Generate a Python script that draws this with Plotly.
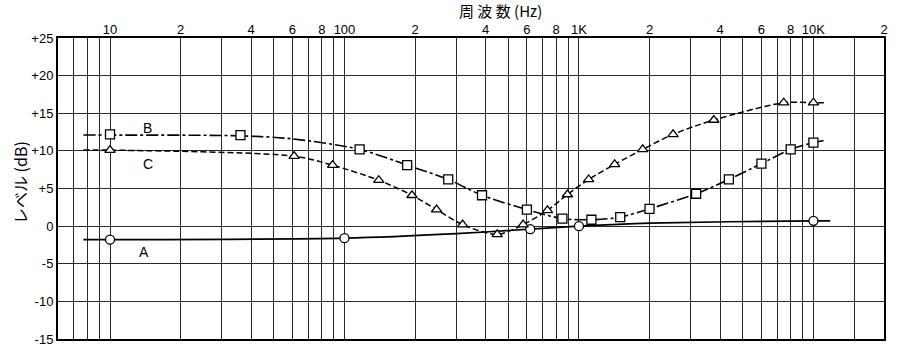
import numpy as np
import plotly.graph_objects as go

# ---- data ----
# Curve A (circles, solid)
a_freq = [10, 100, 620, 1000, 10000]
a_level = [-1.8, -1.6, -0.4, 0.0, 0.7]
a_line_freq = [7.7, 10, 100, 300, 620, 1000, 2000, 10000, 11800]
a_line_level = [-1.8, -1.8, -1.6, -1.0, -0.4, 0.0, 0.4, 0.7, 0.7]

# Curve B (squares, dash-dot)
b_freq = [10, 36, 116, 185, 277, 386, 600, 850, 1130, 1500, 2000, 3160, 4360, 6000, 8000, 10000]
b_level = [12.2, 12.1, 10.2, 8.1, 6.2, 4.1, 2.2, 1.0, 0.85, 1.2, 2.3, 4.3, 6.2, 8.3, 10.2, 11.1]
b_line_freq = [7.7, 10, 36, 60] + b_freq[2:] + [11100]
b_line_level = [12.1, 12.1, 12.0, 11.6] + b_level[2:] + [11.4]

# Curve C (triangles, dashed)
c_freq = [10, 61, 89, 140, 194, 247, 319, 448, 578, 734, 893, 1100, 1420, 1870, 2520, 3760, 7470, 10000]
c_level = [10.1, 9.3, 8.1, 6.1, 4.1, 2.2, 0.2, -1.1, 0.2, 2.1, 4.2, 6.2, 8.2, 10.2, 12.2, 14.1, 16.4, 16.4]
c_line_freq = [7.7] + c_freq + [11200]
c_line_level = [10.1] + c_level + [16.4]

# Axis ticks
x_label_vals = [10, 20, 40, 60, 80, 100, 200, 400, 600, 800, 1000, 2000, 4000, 6000, 8000, 10000, 20000]
x_label_text = ["10", "2", "4", "6", "8", "100", "2", "4", "6", "8", "1K", "2", "4", "6", "8", "10K", "2"]
x_minor_vals = [6, 7, 8, 9, 30, 50, 70, 90, 300, 500, 700, 900, 3000, 5000, 7000, 9000, 15000]
y_vals = [-15, -10, -5, 0, 5, 10, 15, 20, 25]
y_text = ["-15", "-10", "-5", "0", "+5", "+10", "+15", "+20", "+25"]

FONT = "Liberation Sans"
fig = go.Figure()

fig.add_trace(go.Scatter(x=a_line_freq, y=a_line_level, mode="lines",
                         line=dict(color="black", width=1.6, shape="spline", smoothing=0.8)))
fig.add_trace(go.Scatter(x=b_line_freq, y=b_line_level, mode="lines",
                         line=dict(color="black", width=1.6, shape="spline", smoothing=0.8,
                                   dash="12px,3px,3px,3px")))
fig.add_trace(go.Scatter(x=c_line_freq, y=c_line_level, mode="lines",
                         line=dict(color="black", width=1.5, shape="spline", smoothing=0.8,
                                   dash="6px,3px")))

mk = dict(color="white", line=dict(color="black", width=1.3))
fig.add_trace(go.Scatter(x=a_freq, y=a_level, mode="markers",
                         marker=dict(symbol="circle", size=9, **mk)))
fig.add_trace(go.Scatter(x=b_freq, y=b_level, mode="markers",
                         marker=dict(symbol="square", size=9, **mk)))
fig.add_trace(go.Scatter(x=c_freq, y=c_level, mode="markers",
                         marker=dict(symbol="triangle-up", size=9, **mk)))

grid = dict(showgrid=True, gridcolor="#2a2a2a", gridwidth=1.1)
fig.update_xaxes(type="log", range=[np.log10(6), np.log10(20000)], side="top",
                 tickmode="array", tickvals=x_label_vals, ticktext=x_label_text,
                 ticks="", tickfont=dict(family=FONT, size=13, color="black"),
                 ticklabelstandoff=-3,
                 minor=dict(tickmode="array", tickvals=x_minor_vals, ticks="",
                            showgrid=True, gridcolor="#2a2a2a", gridwidth=1.1),
                 showline=True, linecolor="black", linewidth=2, mirror=True,
                 zeroline=False, **grid)
fig.update_yaxes(range=[-15, 25], tickmode="array", tickvals=y_vals, ticktext=y_text,
                 ticks="", tickfont=dict(family=FONT, size=13, color="black"),
                 showline=True, linecolor="black", linewidth=2, mirror=True,
                 zeroline=False, **grid)

ann_font = dict(family=FONT, size=14, color="black")
fig.add_annotation(x=np.log10(14.5), y=13.0, text="B", showarrow=False, font=ann_font)
fig.add_annotation(x=np.log10(14.5), y=8.2, text="C", showarrow=False, font=ann_font)
fig.add_annotation(x=np.log10(14.0), y=-3.4, text="A", showarrow=False, font=ann_font)

fig.add_annotation(x=(500 - 58) / 826, y=1 + (38 - 11) / 301, xref="paper", yref="paper",
                   xanchor="center", yanchor="middle",
                   text="周 波 数 (Hz)", showarrow=False,
                   font=dict(family="Noto Sans CJK JP", size=15, color="black"))
fig.add_annotation(x=(20 - 58) / 826, y=(339 - 183) / 301, xref="paper", yref="paper",
                   xanchor="center", yanchor="middle",
                   text="レベル (dB)", textangle=-90, showarrow=False,
                   font=dict(family="Noto Sans CJK JP", size=16, color="black"))

fig.update_layout(width=900, height=362, margin=dict(l=58, r=16, t=38, b=23),
                  paper_bgcolor="white", plot_bgcolor="white", showlegend=False)

fig.write_html("out.html")
